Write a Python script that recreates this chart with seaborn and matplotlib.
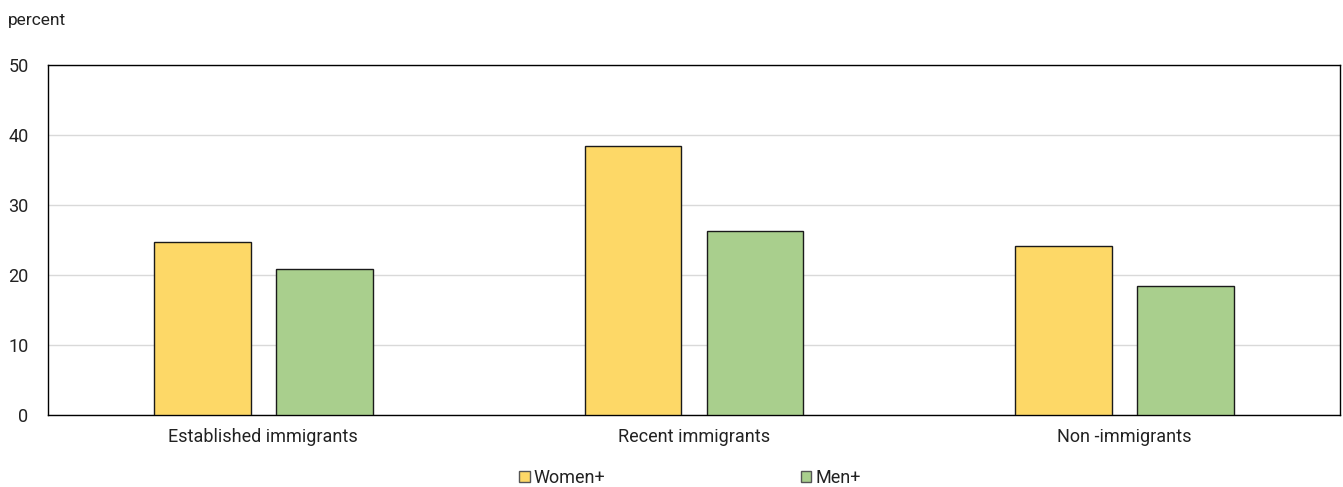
import matplotlib
matplotlib.use("Agg")
import matplotlib.pyplot as plt
import seaborn as sns
import pandas as pd
from matplotlib.patches import Patch

categories = ["Established immigrants", "Recent immigrants", "Non-immigrants"]
tick_labels = ["Established immigrants", "Recent immigrants", "Non -immigrants"]
series = ["Women+", "Men+"]
women = [24.7, 38.4, 24.1]
men = [20.9, 26.3, 18.4]
colors = ["#FDD867", "#A9CF8D"]

df = pd.DataFrame({
    "category": categories * 2,
    "group": [series[0]] * 3 + [series[1]] * 3,
    "value": women + men,
})

sns.set_theme(style="white")
plt.rcParams["font.family"] = ["Roboto", "DejaVu Sans"]

fig = plt.figure(figsize=(13.43, 4.87), dpi=100)
ax = fig.add_axes([48 / 1343, 1 - 415 / 487, (1340 - 48) / 1343, (415 - 65) / 487])

sns.barplot(data=df, x="category", y="value", hue="group", order=categories,
            hue_order=series, palette=colors, saturation=1, width=0.567, gap=0.21,
            edgecolor="#1a1a1a", linewidth=1.0, ax=ax, legend=False, zorder=3)

ax.set_ylim(0, 50)
ax.set_yticks([0, 10, 20, 30, 40, 50])
ax.set_xlim(-0.5, 2.5)
ax.set_xticks(range(3))
ax.set_xticklabels(tick_labels)
ax.yaxis.grid(True, color="#d9d9d9", linewidth=1.0, zorder=0)
ax.set_axisbelow(True)
ax.set_xlabel("")
ax.set_ylabel("")
for s in ax.spines.values():
    s.set_visible(True)
    s.set_color("#000000")
    s.set_linewidth(1.0)
ax.tick_params(axis="both", labelsize=13, colors="#222222", length=0)
ax.tick_params(axis="x", pad=9.5)
ax.tick_params(axis="y", pad=14)

fig.text(8 / 1343, 1 - 20 / 487, "percent", fontsize=12.5, color="#222222", va="center", ha="left")

handles = [Patch(facecolor=c, edgecolor="#555555", linewidth=1.0) for c in colors]
fig.legend(handles, series, loc="center", bbox_to_anchor=(690 / 1343, 1 - 478 / 487),
           ncol=2, frameon=False, fontsize=13, handlelength=0.6, handleheight=0.6,
           handletextpad=0.2, columnspacing=10.8, labelcolor="#222222")

fig.savefig("out.png", dpi=100)
